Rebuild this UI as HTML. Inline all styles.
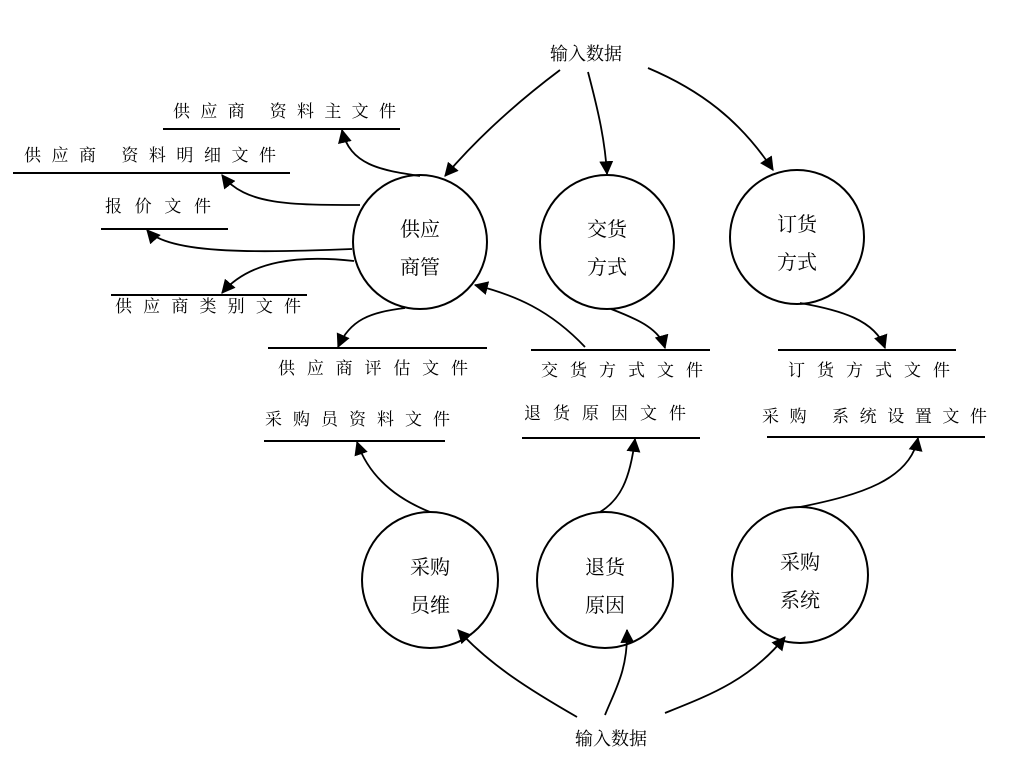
<!DOCTYPE html>
<html><head><meta charset="utf-8"><style>
html,body{margin:0;padding:0;background:#fff}
svg{display:block}
text{font-family:"Liberation Serif","Noto Serif CJK SC","Noto Sans CJK SC",serif;fill:#000}
.l{font-size:17px}
.c{font-size:20px}
.t{font-size:18px}
</style></head><body>
<svg width="1016" height="779" viewBox="0 0 1016 779">
<defs>
<marker id="b" viewBox="0 0 12 12" refX="11" refY="6" markerWidth="14" markerHeight="14" orient="auto" markerUnits="userSpaceOnUse"><path d="M0,0 L12,6 L0,12z" fill="#000"/></marker></defs>
<g fill="none" stroke="#000" stroke-width="2">
<circle cx="420" cy="242" r="67"/>
<circle cx="607" cy="242" r="67"/>
<circle cx="797" cy="237" r="67"/>
<circle cx="430" cy="580" r="68"/>
<circle cx="605" cy="580" r="68"/>
<circle cx="800" cy="575" r="68"/>
<line x1="163" y1="129" x2="400" y2="129"/>
<line x1="13" y1="173" x2="290" y2="173"/>
<line x1="101" y1="229" x2="228" y2="229"/>
<line x1="111" y1="295" x2="307" y2="295"/>
<line x1="268" y1="348" x2="487" y2="348"/>
<line x1="531" y1="350" x2="710" y2="350"/>
<line x1="778" y1="350" x2="956" y2="350"/>
<line x1="264" y1="441" x2="445" y2="441"/>
<line x1="522" y1="438" x2="700" y2="438"/>
<line x1="767" y1="437" x2="985" y2="437"/>
<g marker-end="url(#b)" stroke-width="1.8">
<path d="M560,70 C520,100 480,135 445,176"/>
<path d="M588,72 C598,110 605,140 607,174"/>
<path d="M648,68 C700,90 740,120 773,170"/>
<path d="M420,176 C380,170 350,165 342,130"/>
<path d="M360,205 C290,205 245,205 222,175"/>
<path d="M352,249 C270,252 170,256 147,230"/>
<path d="M354,261 C300,255 250,260 222,293"/>
<path d="M405,308 C370,312 350,320 338,347"/>
<path d="M585,347 C550,310 515,295 475,285"/>
<path d="M611,309 C640,320 660,330 665,348"/>
<path d="M800,303 C840,310 875,320 885,348"/>
<path d="M430,512 C400,500 370,480 357,442"/>
<path d="M600,512 C620,500 630,480 635,439"/>
<path d="M800,507 C860,495 910,480 918,438"/>
<path d="M577,717 C530,690 490,665 458,630"/>
<path d="M605,715 C615,690 628,670 627,630"/>
<path d="M665,713 C710,695 750,680 785,637"/>
</g>
</g>
<text class="t" x="550" y="60">输入数据</text>
<text class="t" x="575" y="745">输入数据</text>
<text class="c" x="400" y="236">供应</text><text class="c" x="400" y="274">商管</text>
<text class="c" x="587" y="236">交货</text><text class="c" x="587" y="274">方式</text>
<text class="c" x="777" y="231">订货</text><text class="c" x="777" y="269">方式</text>
<text class="c" x="410" y="574">采购</text><text class="c" x="410" y="612">员维</text>
<text class="c" x="585" y="574">退货</text><text class="c" x="585" y="612">原因</text>
<text class="c" x="780" y="569">采购</text><text class="c" x="780" y="607">系统</text>
<text class="l" x="173" y="117" textLength="223" lengthAdjust="spacing">供应商 资料主文件</text>
<text class="l" x="24" y="161" textLength="252" lengthAdjust="spacing">供应商 资料明细文件</text>
<text class="l" x="105" y="212" textLength="106" lengthAdjust="spacing">报价文件</text>
<text class="l" x="115" y="312" textLength="186" lengthAdjust="spacing">供应商类别文件</text>
<text class="l" x="278" y="374" textLength="190" lengthAdjust="spacing">供应商评估文件</text>
<text class="l" x="541" y="376" textLength="162" lengthAdjust="spacing">交货方式文件</text>
<text class="l" x="788" y="376" textLength="162" lengthAdjust="spacing">订货方式文件</text>
<text class="l" x="265" y="425" textLength="185" lengthAdjust="spacing">采购员资料文件</text>
<text class="l" x="524" y="419" textLength="162" lengthAdjust="spacing">退货原因文件</text>
<text class="l" x="762" y="422" textLength="225" lengthAdjust="spacing">采购 系统设置文件</text>
</svg>
</body></html>
